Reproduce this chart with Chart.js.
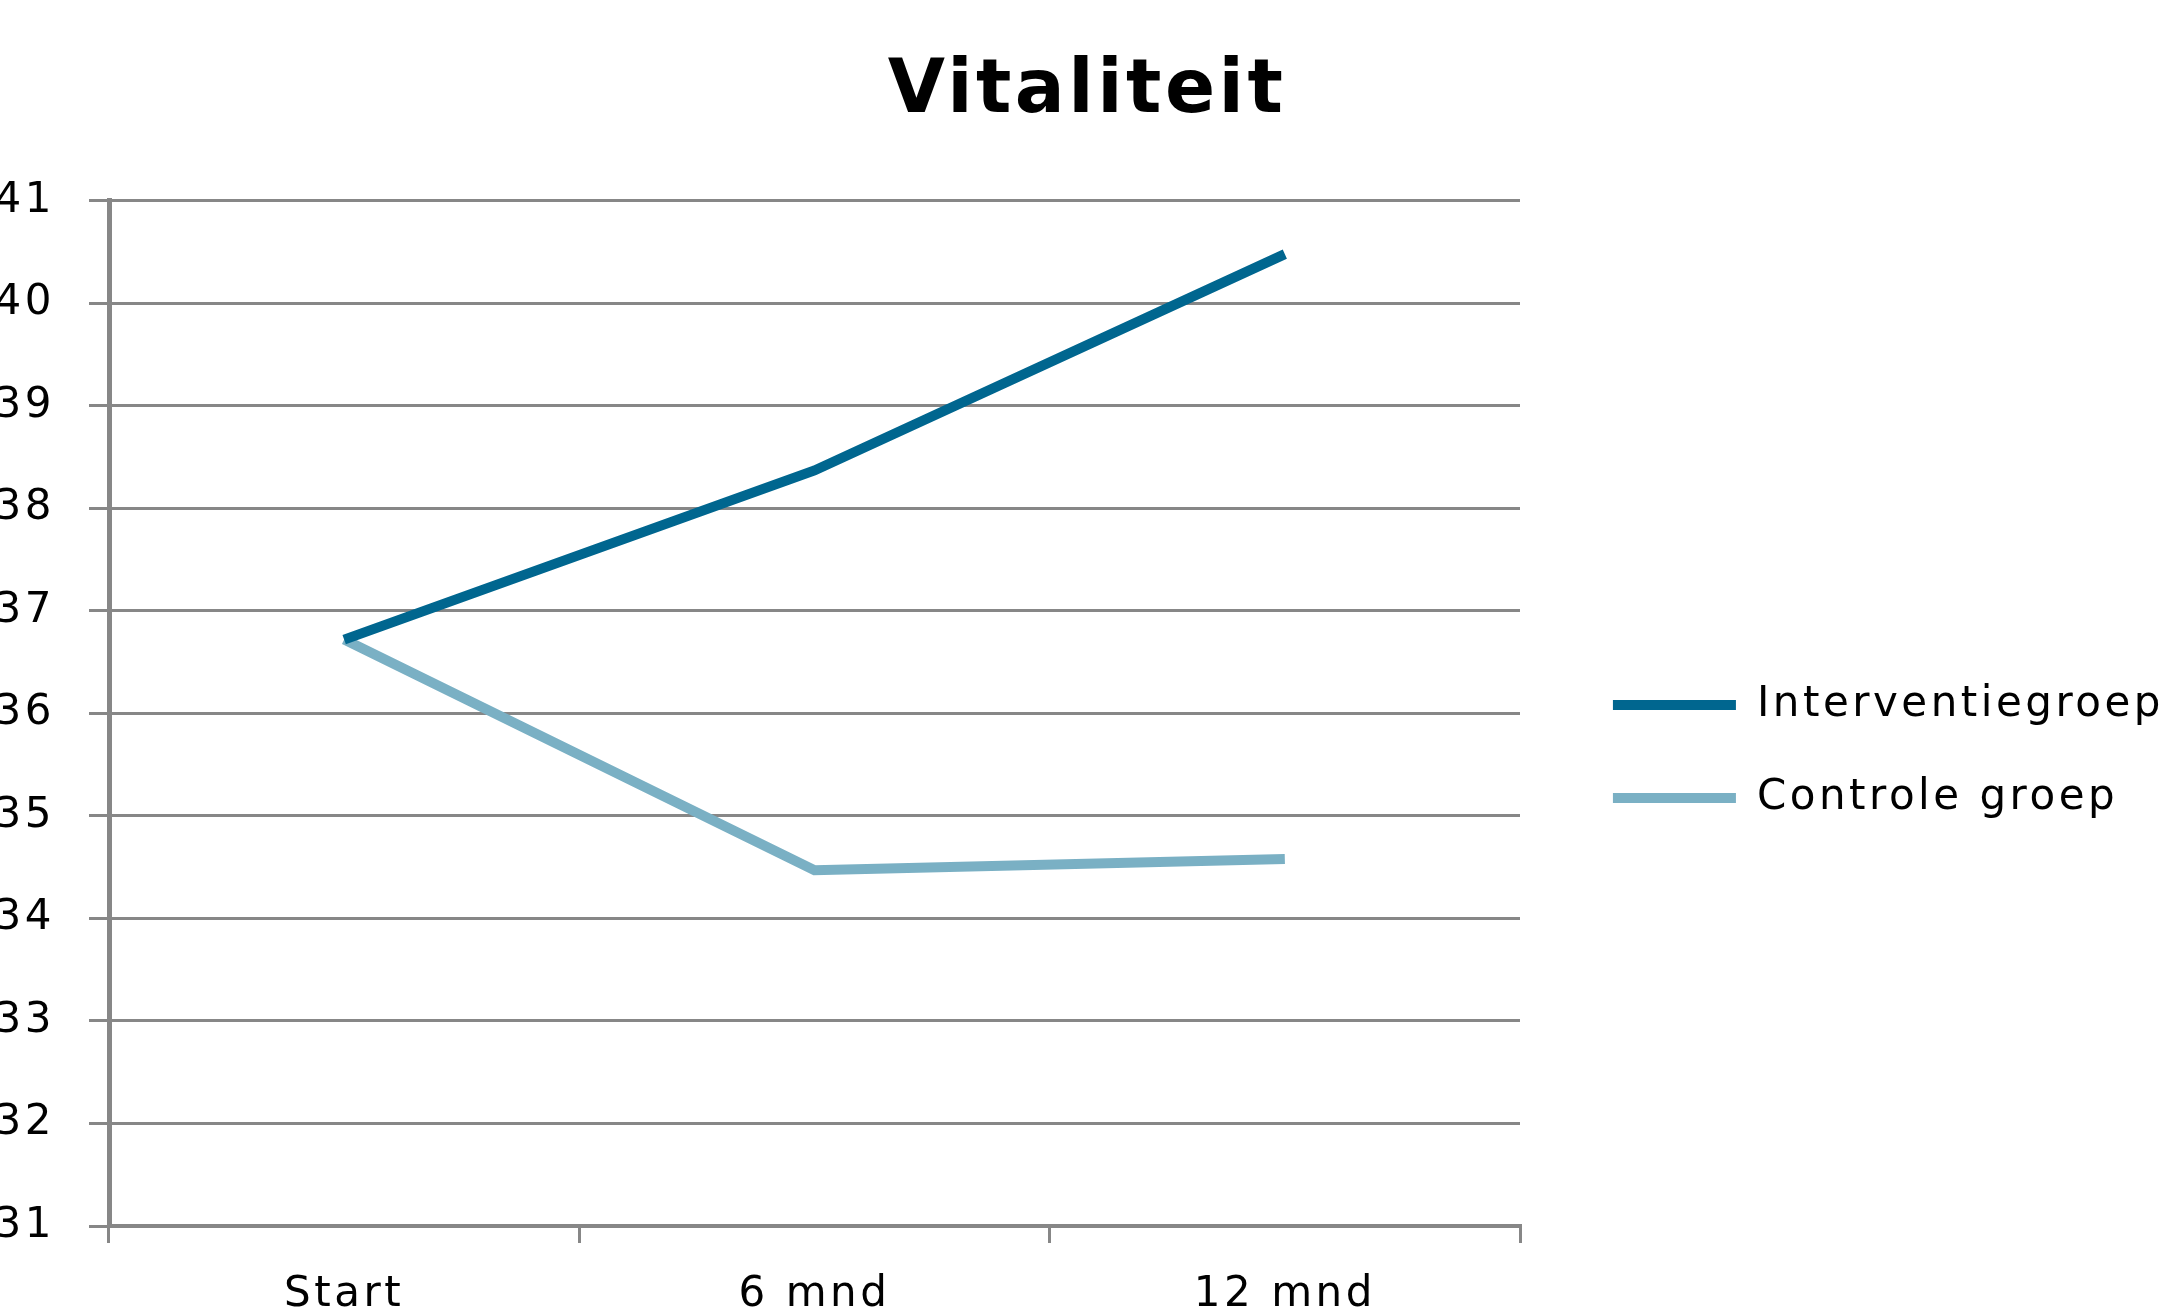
<!DOCTYPE html>
<html>
<head>
<meta charset="utf-8">
<title>Vitaliteit</title>
<script src="https://cdn.jsdelivr.net/npm/chart.js@4/dist/chart.umd.min.js"></script>
<style>
  html, body { margin: 0; padding: 0; background: #ffffff; overflow: hidden; width: 2170px; height: 1316px; }
  #wrap { position: relative; width: 2170px; height: 1316px; overflow: hidden; }
  canvas { display: block; position: absolute; left: 0; top: 0; }
</style>
</head>
<body>
<div id="wrap"><canvas id="chart" width="2174" height="1503" style="width:2174px;height:1503px"></canvas></div>
<script>
// Measurement moments on the horizontal axis
const categories = ['Start', '6 mnd', '12 mnd'];

// Mean vitality score per group
const interventieValues = [36.72, 38.37, 40.48];
const controleValues = [36.72, 34.47, 34.58];

// Series names and title
const seriesNames = ['Interventiegroep', 'Controle groep'];
const chartTitle = 'Vitaliteit';

// Value axis range
const yMin = 31;
const yMax = 41;
const yStep = 1;

const darkBlue = '#00668f';
const lightBlue = '#7ab0c4';
const gridGrey = '#878787';
const spacing = '3.5px';
const plotRight = 1520;   // right edge of the plot area, legend sits beyond it

Chart.defaults.font.family = "'DejaVu Sans', 'Verdana', sans-serif";
Chart.defaults.color = '#000000';

// Slightly wider text tracking, applied before text is measured and drawn
const trackingPlugin = {
  id: 'tracking',
  beforeLayout(chart) { chart.ctx.letterSpacing = spacing; },
  beforeDraw(chart) { chart.ctx.letterSpacing = spacing; }
};

// Legend swatches as plain filled bars, without an outline
function legendLabels(chart) {
  const items = Chart.defaults.plugins.legend.labels.generateLabels(chart);
  items.forEach(item => { item.lineWidth = 0; });
  return items;
}

new Chart(document.getElementById('chart'), {
  type: 'line',
  data: {
    labels: categories,
    datasets: [
      {
        label: seriesNames[0],
        data: interventieValues,
        borderColor: darkBlue,
        backgroundColor: darkBlue,
        borderWidth: 10,
        tension: 0,
        pointRadius: 0,
        pointHoverRadius: 0,
        fill: false,
        xAxisID: 'x',
        yAxisID: 'y'
      },
      {
        label: seriesNames[1],
        data: controleValues,
        borderColor: lightBlue,
        backgroundColor: lightBlue,
        borderWidth: 10,
        tension: 0,
        pointRadius: 0,
        pointHoverRadius: 0,
        fill: false,
        xAxisID: 'x',
        yAxisID: 'y'
      }
    ]
  },
  options: {
    responsive: false,
    animation: false,
    devicePixelRatio: 1,
    events: [],
    layout: { padding: 0 },
    plugins: {
      title: {
        display: true,
        text: chartTitle,
        color: '#000000',
        font: { size: 74, weight: 'bold' },
        padding: { top: 48, bottom: 64 }
      },
      legend: {
        position: 'right',
        align: 'center',
        maxWidth: 1200,
        labels: {
          boxWidth: 123,
          boxHeight: 10,
          padding: 51,
          color: '#000000',
          font: { size: 42 },
          generateLabels: legendLabels
        }
      },
      tooltip: { enabled: false }
    },
    scales: {
      x: {
        offset: true,
        grid: {
          offset: true,
          drawOnChartArea: false,
          drawTicks: true,
          tickLength: 17,
          color: gridGrey,
          lineWidth: 3
        },
        border: { color: gridGrey, width: 4 },
        ticks: {
          color: '#000000',
          font: { size: 42 },
          padding: 27,
          maxRotation: 0,
          autoSkip: false
        },
        afterFit(scale) { scale.height = 277; }
      },
      y: {
        min: yMin,
        max: yMax,
        ticks: {
          stepSize: yStep,
          color: '#000000',
          font: { size: 42 },
          padding: 34
        },
        grid: {
          color: gridGrey,
          lineWidth: 3,
          tickLength: 20
        },
        border: { color: gridGrey, width: 5 },
        afterFit(scale) { scale.width = 109; }
      },
      // empty strip between the plot and the legend
      gap: {
        type: 'linear',
        position: 'right',
        display: true,
        grid: { display: false },
        ticks: { display: false },
        border: { display: false },
        afterFit(scale) {
          const legend = scale.chart.legend;
          scale.width = Math.max(0, scale.chart.width - legend.width - plotRight);
        }
      }
    }
  },
  plugins: [trackingPlugin]
});
</script>
</body>
</html>
